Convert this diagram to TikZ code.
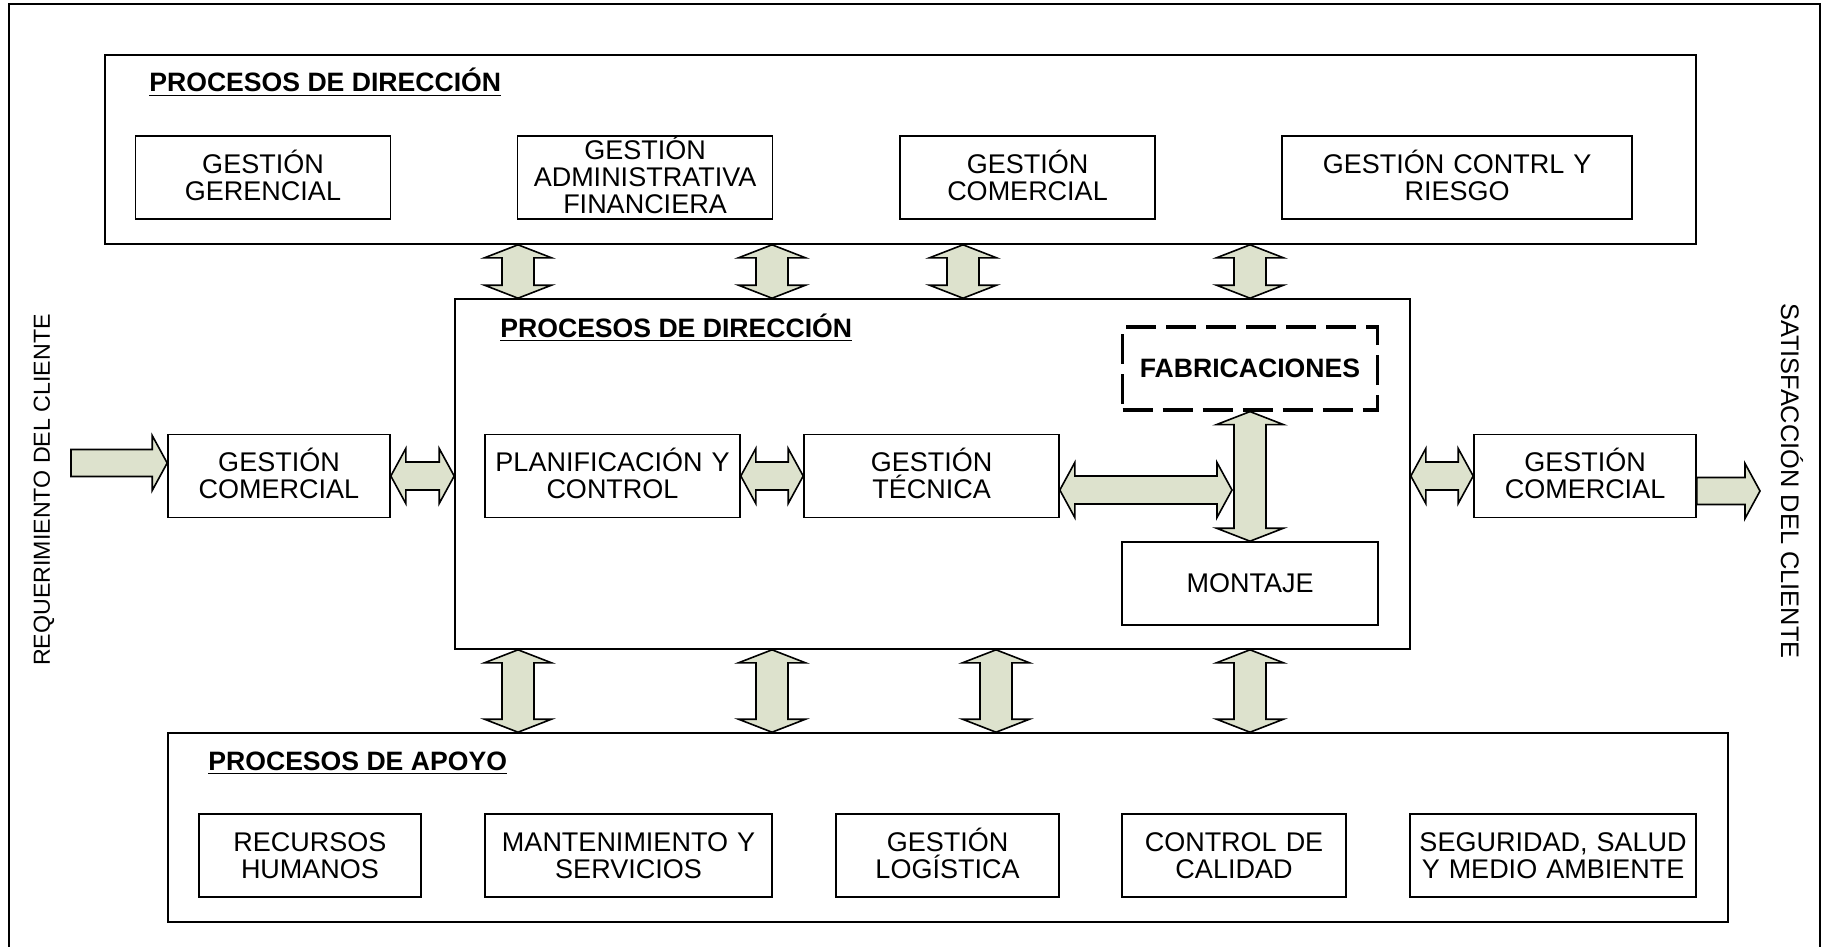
\documentclass[tikz,border=0pt]{standalone}
\usepackage{fontspec}
\setmainfont{Liberation Sans}
\usetikzlibrary{calc, fit}

\definecolor{arrowfill}{RGB}{221,226,205}

% fat block arrows between two points
\newcommand{\fatv}[2]{%
  \filldraw[fat] let \p1=(#1), \p2=(#2) in
    (\x1-8pt,\y1-6.5pt) -- (\x1-16.75pt,\y1-6.5pt) -- (\x1,\y1) -- (\x1+16.75pt,\y1-6.5pt) -- (\x1+8pt,\y1-6.5pt)
    -- (\x1+8pt,\y2+6.5pt) -- (\x1+16.75pt,\y2+6.5pt) -- (\x1,\y2) -- (\x1-16.75pt,\y2+6.5pt) -- (\x1-8pt,\y2+6.5pt) -- cycle;}
\newcommand{\fath}[2]{%
  \filldraw[fat] let \p1=(#1), \p2=(#2) in
    (\x1,\y1) -- (\x1+7.5pt,\y1+13.75pt) -- (\x1+7.5pt,\y1+7pt) -- (\x2-7.5pt,\y1+7pt) -- (\x2-7.5pt,\y1+13.75pt) -- (\x2,\y1)
    -- (\x2-7.5pt,\y1-13.75pt) -- (\x2-7.5pt,\y1-7pt) -- (\x1+7.5pt,\y1-7pt) -- (\x1+7.5pt,\y1-13.75pt) -- cycle;}
\newcommand{\fatone}[2]{%
  \filldraw[fat] let \p1=(#1), \p2=(#2) in
    (\x1,\y1+6.75pt) -- (\x2-7.5pt,\y1+6.75pt) -- (\x2-7.5pt,\y1+13.75pt) -- (\x2,\y1)
    -- (\x2-7.5pt,\y1-13.75pt) -- (\x2-7.5pt,\y1-6.75pt) -- (\x1,\y1-6.75pt) -- cycle;}

\begin{document}
\begin{tikzpicture}[
    x=0.5pt, y=-0.5pt,
    group/.style={draw, line width=0.8pt, inner sep=0pt},
    box/.style={group, align=center, minimum height=41.5pt, text width=#1, text height=9.4pt,
      font=\fontsize{13.5}{13.6}\selectfont},
    box/.default=127.5pt,
    dashbox/.style={box, line width=1.6pt, dash pattern=on 15pt off 5pt, font=\fontsize{13.3}{14}\selectfont\bfseries},
    title/.style={anchor=base west, inner sep=0pt, font=\fontsize{13.3}{14}\selectfont\bfseries},
    side/.style={inner sep=0pt},
    fat/.style={draw, line width=0.8pt, fill=arrowfill, line join=miter}
  ]
  \useasboundingbox (0,0) rectangle (1825,947);
  \draw[line width=0.6pt] (9,947) |- (1820,4) -- (1820,947);

  % Top group
  \node[group, fit={(105,55) (1696,244)}] (top) {};
  \node[title] (toptitle) at (149,92) {\underline{PROCESOS DE DIRECCIÓN}};
  \node[box] (gg) at (263,177.5) {GESTIÓN\\GERENCIAL};
  \node[box] (gaf) at (645,177.5) {GESTIÓN\\ADMINISTRATIVA\\FINANCIERA};
  \node[box] (gct) at (1027.5,177.5) {GESTIÓN\\COMERCIAL};
  \node[box=175pt] (gcr) at (1457,177.5) {GESTIÓN CONTRL Y\\RIESGO};

  % Middle group
  \node[group, fit={(455,299) (1410,649)}] (mid) {};
  \node[title] (midtitle) at (500,337) {\underline{PROCESOS DE DIRECCIÓN}};
  \node[dashbox=128pt] (fab) at (1250,368.5) {FABRICACIONES};
  \node[box] (plan) at (612.5,476) {PLANIFICACIÓN Y\\CONTROL};
  \node[box] (tec) at (931.5,476) {GESTIÓN\\TÉCNICA};
  \node[box=128pt] (mon) at (1250,583.5) {MONTAJE};

  % Client side
  \node[box=111pt] (lgc) at (279,476) {GESTIÓN\\COMERCIAL};
  \node[box=111pt] (rgc) at (1585,476) {GESTIÓN\\COMERCIAL};
  \node[side, rotate=90, font=\fontsize{11.6}{12}\selectfont] (reqtext) at (44,490) {REQUERIMIENTO DEL CLIENTE};
  \node[side, rotate=-90, font=\fontsize{12.7}{13}\selectfont] (sattext) at (1792,481) {SATISFACCIÓN DEL CLIENTE};

  % Bottom group
  \node[group, fit={(168,733) (1728,922)}] (bot) {};
  \node[title] (bottitle) at (208,770) {\underline{PROCESOS DE APOYO}};
  \node[box=111pt] (rh) at (310,855.5) {RECURSOS\\HUMANOS};
  \node[box=143.5pt] (mys) at (628.5,855.5) {MANTENIMIENTO Y\\SERVICIOS};
  \node[box=111.5pt] (glo) at (947.5,855.5) {GESTIÓN\\LOGÍSTICA};
  \node[box=112pt] (cdc) at (1234,855.5) {CONTROL DE\\CALIDAD};
  \node[box=143pt] (ssma) at (1553,855.5) {SEGURIDAD, SALUD\\Y MEDIO AMBIENTE};

  \coordinate (req) at (71,463);
  \coordinate (sat) at (1760,491);
  \coordinate (vj) at (1232,490);

  % Arrows
  \fatv{518,0 |- top.south}{518,0 |- mid.north}
  \fatv{772,0 |- top.south}{772,0 |- mid.north}
  \fatv{963,0 |- top.south}{963,0 |- mid.north}
  \fatv{1250,0 |- top.south}{1250,0 |- mid.north}
  \fatv{518,0 |- mid.south}{518,0 |- bot.north}
  \fatv{772,0 |- mid.south}{772,0 |- bot.north}
  \fatv{996,0 |- mid.south}{996,0 |- bot.north}
  \fatv{1250,0 |- mid.south}{1250,0 |- bot.north}
  \fatv{fab.south}{mon.north}
  \fatone{req}{lgc.west |- req}
  \fath{lgc.east}{mid.west |- lgc.east}
  \fath{plan.east}{tec.west}
  \fath{tec.east |- vj}{vj}
  \fath{mid.east |- rgc.west}{rgc.west}
  \fatone{rgc.east |- sat}{sat}
\end{tikzpicture}
\end{document}
